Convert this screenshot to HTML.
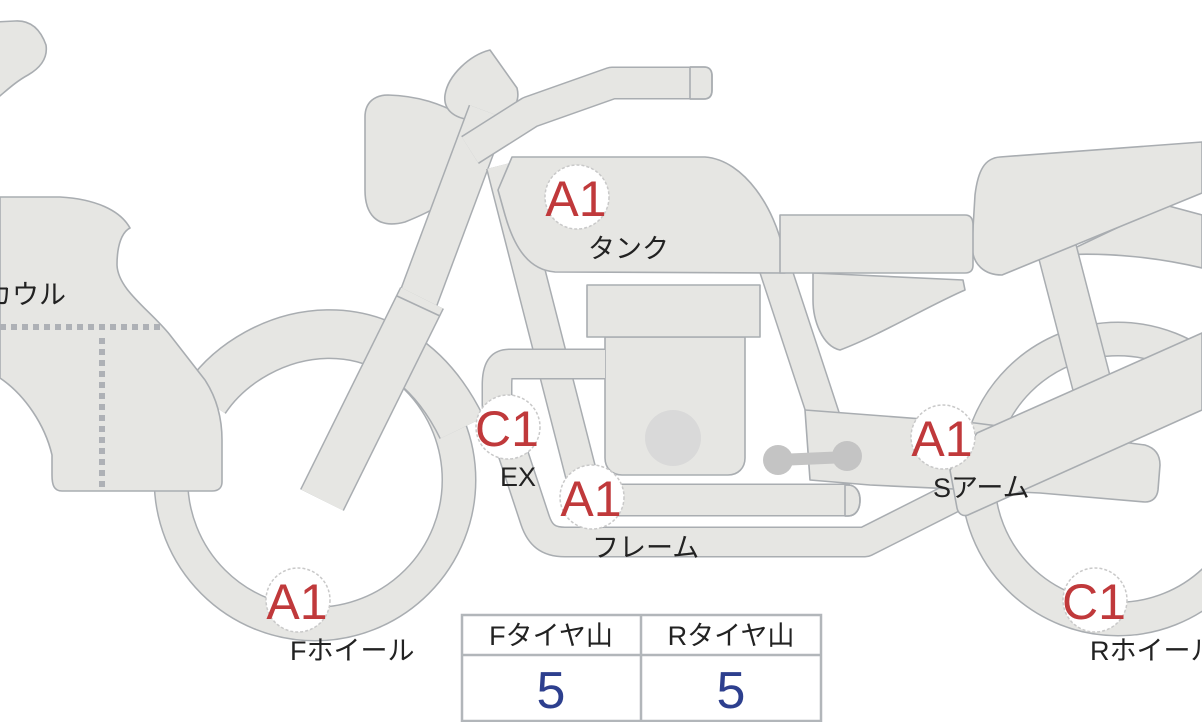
<!DOCTYPE html>
<html><head><meta charset="utf-8"><style>
html,body{margin:0;padding:0;background:#fff;}
svg{display:block;}
.o{fill:none;stroke:#a9adb1;stroke-linejoin:round;}
.i{fill:none;stroke:#e6e6e3;stroke-linejoin:round;}
.s{fill:#e6e6e3;stroke:#a9adb1;stroke-width:1.6;stroke-linejoin:round;}
.lb{font-family:"Liberation Sans","Noto Sans CJK JP",sans-serif;font-size:27px;fill:#222;}
.mk{font-family:"Liberation Sans",sans-serif;font-size:50px;fill:#c0393b;text-anchor:middle;}
</style></head><body>
<svg width="1202" height="722" viewBox="0 0 1202 722" xmlns="http://www.w3.org/2000/svg">
<circle cx="1118" cy="479" r="140" class="o" stroke-width="35"/>
<circle cx="1118" cy="479" r="140" class="i" stroke-width="32"/>
<path class="s" d="M1060,255 L1165,205 L1202,215 L1202,268 C1160,258 1110,252 1060,255Z"/>
<path class="o" d="M1057,250 L1092,385" stroke-width="41"/>
<path class="i" d="M1057,250 L1092,385" stroke-width="38"/>
<path class="s" d="M1000,157 L1202,142 L1202,193 L1002,275 C985,275 972,265 972,245 L975,195 C978,170 985,158 1000,157Z"/>
<circle cx="315" cy="480" r="144" class="o" stroke-width="35"/>
<circle cx="315" cy="480" r="144" class="i" stroke-width="32"/>
<path class="o" d="M205,400 C255,325 395,290 462,428" stroke-width="50"/>
<path class="i" d="M205,400 C255,325 395,290 462,428" stroke-width="47"/>
<path class="s" d="M0,197 L60,197 C95,199 120,210 130,228 C122,232 117,245 117,265 C118,290 150,310 170,335 L205,380 C218,400 222,420 222,440 L222,482 C222,488 218,491 212,491 L62,491 C54,491 52,485 52,475 L52,455 C45,425 25,395 0,378 Z"/>
<path d="M0,327 L163,327 M102,338 L102,488" stroke="#aeb1b6" stroke-width="6" stroke-dasharray="6,5" fill="none"/>
<path class="s" d="M-5,22 L15,21 C30,20 40,28 46,45 C48,58 40,68 28,75 C15,82 5,92 -5,100Z"/>
<path class="s" d="M388,95 C420,96 440,104 462,115 C480,125 482,160 474,175 C455,200 430,212 405,222 C375,230 365,212 365,190 L365,117 C365,102 375,95 388,95Z"/>
<path class="s" d="M490,50 L517,88 C522,108 505,118 480,120 C455,121 443,110 445,95 C448,75 470,55 490,50Z"/>
<path class="o" d="M488,112 L416,305" stroke-width="41"/>
<path class="i" d="M488,112 L416,305" stroke-width="38"/>
<path class="o" d="M470,150 L530,112 L612,83 L700,83" stroke-width="33"/>
<path class="i" d="M470,150 L530,112 L612,83 L700,83" stroke-width="30"/>
<path class="s" d="M690,67 L704,67 C710,67 712,71 712,76 L712,90 C712,95 710,99 704,99 L690,99Z" stroke="none"/>
<path d="M690,67 L704,67 C710,67 712,71 712,76 L712,90 C712,95 710,99 704,99 L690,99" fill="none" stroke="#a9adb1" stroke-width="1.6"/>
<path class="o" d="M502,165 L580,470 C585,490 590,500 610,500 L850,500" stroke-width="33"/>
<path class="i" d="M502,165 L580,470 C585,490 590,500 610,500 L850,500" stroke-width="30"/>
<path class="s" d="M845,485 L848,485 C856,485 860,492 860,500 C860,509 856,516 848,516 L845,516Z" stroke="none"/>
<path d="M845,485 L848,485 C856,485 860,492 860,500 C860,509 856,516 848,516 L845,516" fill="none" stroke="#a9adb1" stroke-width="1.6"/>
<path class="o" d="M775,268 L825,420" stroke-width="33"/>
<path class="i" d="M775,268 L825,420" stroke-width="30"/>
<path class="s" d="M512,157 L705,157 C745,160 775,210 783,250 L785,273 L555,272 C530,270 515,250 505,215 L498,190 Z"/>
<path class="s" d="M813,273 L963,280 L965,290 C930,305 880,335 840,350 C822,346 813,320 813,300Z"/>
<path class="s" d="M780,215 L965,215 C971,215 973,219 973,225 L973,265 C973,271 970,273 965,273 L780,273Z"/>
<path class="s" d="M605,337 L745,337 L745,458 C745,468 738,475 728,475 L622,475 C612,475 605,468 605,458Z"/>
<rect x="587" y="285" width="173" height="52" class="s"/>
<circle cx="673" cy="438" r="28" fill="#d9d9d9"/>
<path class="o" d="M605,364 L510,364 C498,364 497,375 497,385 L497,405 L535,520 C540,535 548,542 565,542 L865,542 L1202,372" stroke-width="31"/>
<path class="i" d="M605,364 L510,364 C498,364 497,375 497,385 L497,405 L535,520 C540,535 548,542 565,542 L865,542 L1202,372" stroke-width="28"/>
<path class="s" d="M805,410 L975,423 L1145,445 C1155,448 1160,455 1160,465 L1158,490 C1157,498 1152,502 1145,502 L1040,493 L870,485 L810,480 Z"/>
<path d="M778,460 L848,457" stroke="#c4c4c4" stroke-width="12"/>
<circle cx="778" cy="460" r="15" fill="#c4c4c4"/>
<circle cx="847" cy="456" r="15" fill="#c4c4c4"/>
<path class="s" d="M977,433 L1202,333 L1202,410 L968,515 C962,517 958,513 957,508 L950,470 Z"/>
<path class="o" d="M422,298 L322,500" stroke-width="49"/>
<path class="i" d="M422,298 L322,500" stroke-width="46"/>
<line x1="397" y1="296" x2="440" y2="316" stroke="#a9adb1" stroke-width="1.6"/>
<g stroke="#c9c9c9" stroke-width="1.5" fill="#fff" stroke-dasharray="3,2">
<circle cx="577" cy="197" r="32"/>
<circle cx="508" cy="427" r="32"/>
<circle cx="592" cy="497" r="32"/>
<circle cx="943" cy="437" r="32"/>
<circle cx="298" cy="600" r="32"/>
<circle cx="1095" cy="600" r="32"/>
</g>
<text class="mk" x="576" y="216">A1</text>
<text class="mk" x="507" y="446">C1</text>
<text class="mk" x="591" y="516">A1</text>
<text class="mk" x="942" y="456">A1</text>
<text class="mk" x="297" y="619">A1</text>
<text class="mk" x="1094" y="619">C1</text>
<text class="lb" x="588" y="258">タンク</text>
<text class="lb" x="500" y="486">EX</text>
<text class="lb" x="592" y="557">フレーム</text>
<text class="lb" x="933" y="497">Sアーム</text>
<text class="lb" x="290" y="660">Fホイール</text>
<text class="lb" x="1090" y="660">Rホイール</text>
<text class="lb" x="-15" y="304">カウル</text>
<rect x="462" y="615" width="359" height="106" fill="#fff" stroke="#b2b6ba" stroke-width="2.5"/>
<line x1="462" y1="655" x2="821" y2="655" stroke="#b2b6ba" stroke-width="2.5"/>
<line x1="641" y1="615" x2="641" y2="721" stroke="#b2b6ba" stroke-width="2.5"/>
<text class="lb" x="551" y="645" text-anchor="middle">Fタイヤ山</text>
<text class="lb" x="731" y="645" text-anchor="middle">Rタイヤ山</text>
<text x="551" y="708" text-anchor="middle" font-family="Liberation Sans,sans-serif" font-size="52" fill="#2d3f8e">5</text>
<text x="731" y="708" text-anchor="middle" font-family="Liberation Sans,sans-serif" font-size="52" fill="#2d3f8e">5</text>
</svg>
</body></html>
